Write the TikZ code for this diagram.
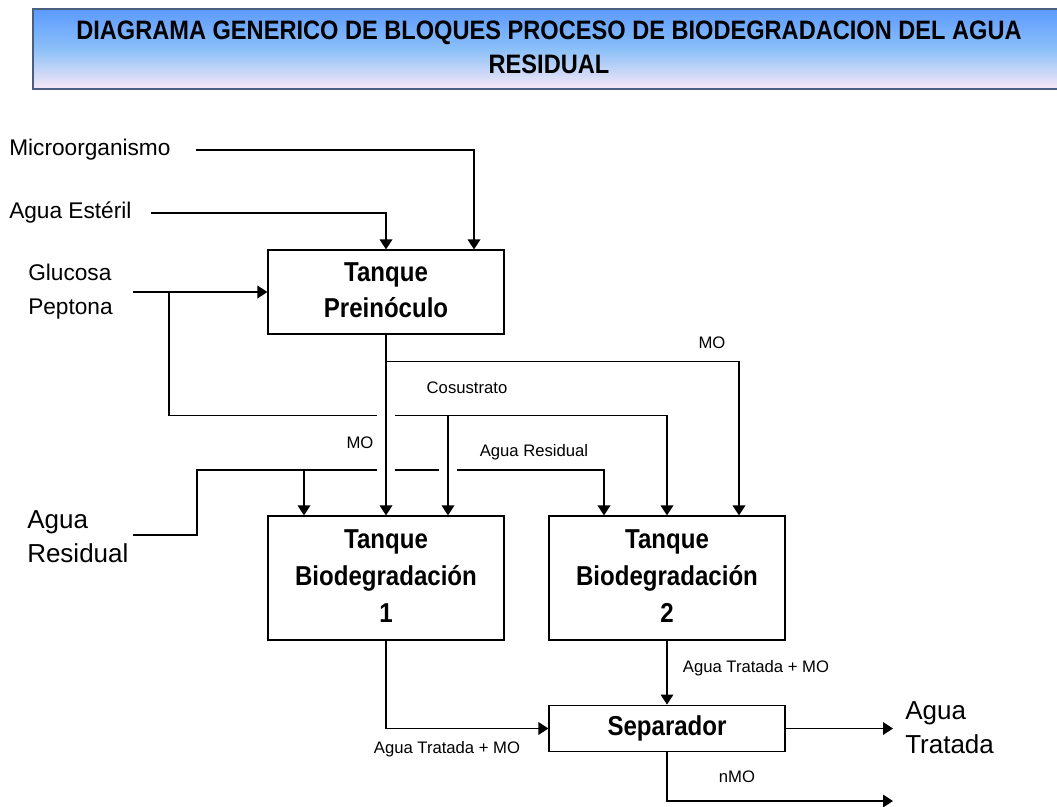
\documentclass[tikz,border=0pt]{standalone}
\usepackage{graphicx}
\usepackage{fontspec}
\setmainfont{Liberation Sans}
\usetikzlibrary{arrows.meta,calc}
\definecolor{titletop}{RGB}{92,154,255}
\definecolor{titlemid}{RGB}{140,192,248}
\definecolor{titlebot}{RGB}{248,232,246}
\definecolor{titleedge}{RGB}{74,94,128}
\newcommand{\condtext}[2]{\scalebox{#1}[1]{\begin{tabular}{@{}c@{}}#2\end{tabular}}}
\tikzset{
  flow/.style={draw=black, line width=1pt, -{Triangle[width=9.5pt,length=7.5pt]}},
  gapper/.style={preaction={draw=white, line width=13pt, arrows=-, shorten <=#1, shorten >=18pt}},
  tank/.style={draw=black, line width=0.9pt, minimum width=177pt, align=center, inner sep=0pt,
    font=\fontsize{20.5}{27.5}\selectfont\bfseries},
  inlabel/.style={inner sep=0pt, font=\fontsize{17}{25.5}\selectfont, align=left},
  biglabel/.style={inner sep=0pt, font=\fontsize{19.5}{25.5}\selectfont, align=left},
  small/.style={inner sep=0pt, font=\fontsize{12.5}{15}\selectfont},
}
\begin{document}
\begin{tikzpicture}[x=0.75pt,y=-0.75pt]
\useasboundingbox (0,0) rectangle (1057,807);

% title banner: gradient from blue (top) to pale pink (bottom), drawn strip by strip
\foreach \i in {0,...,79}{
  \ifnum\i<40
    \pgfmathtruncatemacro\p{\i*2.5}
    \fill[titlemid!\p!titletop] (33,9+\i) rectangle (1062,10.3+\i);
  \else
    \pgfmathtruncatemacro\p{(\i-40)*2.5}
    \fill[titlebot!\p!titlemid] (33,9+\i) rectangle (1062,10.3+\i);
  \fi
}
\draw[titleedge, line width=1.6pt] (1062,9) -- (33,9) -- (33,89) -- (1062,89);
\node[font=\fontsize{20}{25.5}\selectfont\bfseries, inner sep=0pt]
  (title) at (549,50) {\condtext{0.885}{DIAGRAMA GENERICO DE BLOQUES PROCESO DE BIODEGRADACION DEL AGUA\\RESIDUAL}};

% tanks
\node[tank, minimum height=63pt] (pre) at (386,292) {\condtext{0.88}{Tanque\\Preinóculo}};
\node[tank, minimum height=93pt] (bio1) at (386,578) {\condtext{0.88}{Tanque\\Biodegradación\\1}};
\node[tank, minimum height=93pt] (bio2) at (667,578) {\condtext{0.88}{Tanque\\Biodegradación\\2}};
\node[tank, minimum height=35pt] (sep) at (667,728.5) {\condtext{0.88}{Separador}};

% inputs labels
\node[inlabel, anchor=west] (micro) at (9,150) {Microorganismo};
\node[inlabel, anchor=west] (ester) at (9,213) {Agua Estéril};
\node[inlabel, anchor=west] (gluc) at (28,292) {Glucosa\\Peptona};
\node[biglabel, anchor=west] (resid) at (27,537) {Agua\\Residual};
\node[biglabel, anchor=west] (trat) at (905,728) {Agua\\Tratada};

% small labels
\node[small] (lmo1) at (712,343) {MO};
\node[small] (lcos) at (467,388) {Cosustrato};
\node[small] (lmo2) at (360,443) {MO};
\node[small] (lres) at (534,452) {Agua Residual};
\node[small] (lat2) at (756,668) {Agua Tratada + MO};
\node[small] (lat1) at (447,749) {Agua Tratada + MO};
\node[small] (lnmo) at (737,777) {nMO};

% helper coordinates
\coordinate (microstart) at (196,150);
\coordinate (esterstart) at (151,213);
\coordinate (glucstart) at (133,292);
\coordinate (gj) at (169,292);
\coordinate (resstart) at (133,535);
\coordinate (arj) at (197,470);
\coordinate (tratout) at (893,728.5);
\coordinate (nmoout) at (893,801);

% feeds to pre-inoculum tank
\draw[flow] (microstart) -| ($(pre.north)+(88,0)$);
\draw[flow] (esterstart) -| (pre.north);
\draw[flow] (glucstart) -- (pre.west);

% cosubstrate line and residual water line (horizontals first)
\draw[flow] (gj) |- ($(bio2.north)+(0,-100)$) -- (bio2.north);
\draw[flow] (resstart) -| (arj) -| ($(bio2.north)+(-63,0)$);
\draw[flow] ($(bio1.north)+(-82,-46)$) -- ($(bio1.north)+(-82,0)$);

% verticals crossing with gaps
\draw[flow, gapper=40pt] (pre.south) -- (bio1.north);
\draw[flow, gapper=15pt] ($(bio1.north)+(62,-100)$) -- ($(bio1.north)+(62,0)$);

% MO branch to tank 2
\draw[flow] ($(pre.south)+(0,27)$) -| ($(bio2.north)+(72,0)$);

% outputs
\draw[flow] (bio1.south) |- (sep.west);
\draw[flow] (bio2.south) -- (sep.north);
\draw[flow] (sep.east) -- (tratout);
\draw[flow] (sep.south) |- (nmoout);
\end{tikzpicture}
\end{document}
